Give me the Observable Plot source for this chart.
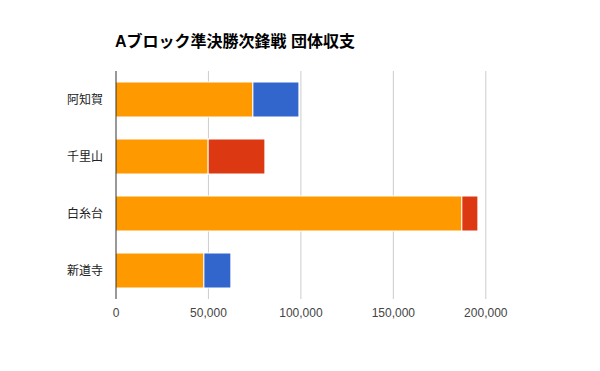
<!DOCTYPE html>
<html>
<head>
<meta charset="utf-8">
<script src="https://cdn.jsdelivr.net/npm/d3@7"></script>
<script src="https://cdn.jsdelivr.net/npm/@observablehq/plot@0.6"></script>
<style>
  html, body { margin: 0; padding: 0; background: #fff; }
  #wrap { position: relative; width: 600px; height: 371px; font-family: "Liberation Sans", Arial, "Noto Sans CJK JP", sans-serif; }
  #title { position: absolute; left: 115px; top: 32px; margin: 0; font-size: 16px; font-weight: bold; color: #000; line-height: 20px; white-space: nowrap; }
  #chart { position: absolute; left: 0; top: 0; }
</style>
</head>
<body>
<div id="wrap">
  <div id="chart"></div>
  <div id="title">Aブロック準決勝次鋒戦 団体収支</div>
</div>
<script>
const teams = ["阿知賀", "千里山", "白糸台", "新道寺"];
const baseScores = [74300, 50100, 187300, 47800];
const deltaScores = [24900, 30700, 8700, 14600];
const deltaTypes = ["gain", "loss", "loss", "gain"];
const xTicks = [0, 50000, 100000, 150000, 200000];

const rows = [];
teams.forEach((t, i) => {
  rows.push({team: t, series: "base", value: baseScores[i]});
  rows.push({team: t, series: deltaTypes[i], value: deltaScores[i]});
});

const chart = Plot.plot({
  width: 600,
  height: 371,
  marginTop: 71,
  marginBottom: 72,
  marginLeft: 115.5,
  marginRight: 114.7,
  style: {fontFamily: '"Liberation Sans", Arial, "Noto Sans CJK JP", sans-serif', background: "#fff"},
  x: {domain: [0, 200000]},
  y: {domain: teams, paddingInner: 0.386, paddingOuter: 0.193},
  color: {domain: ["base", "gain", "loss"], range: ["#ff9900", "#3366cc", "#dc3912"]},
  marks: [
    Plot.gridX(xTicks.slice(1), {stroke: "#cccccc", strokeOpacity: 1, strokeWidth: 1}),
    Plot.barX(rows, Plot.stackX({y: "team", x: "value", fill: "series", stroke: "white", strokeWidth: 1})),
    Plot.ruleX([0], {stroke: "#333333", strokeWidth: 1}),
    Plot.axisX(xTicks, {tickSize: 0, tickPadding: 9, fontSize: 12, fill: "#444444", tickFormat: d3.format(","), label: null}),
    Plot.axisY({tickSize: 0, tickPadding: 13, fontSize: 12, fill: "#222222", label: null})
  ]
});
document.getElementById("chart").appendChild(chart);
</script>
</body>
</html>
